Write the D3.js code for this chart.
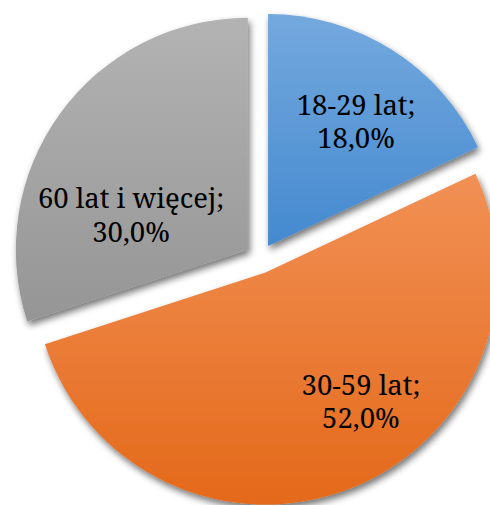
<!DOCTYPE html>
<html>
<head>
<meta charset="utf-8">
<script src="https://cdn.jsdelivr.net/npm/d3@7"></script>
<style>
  html, body { margin: 0; padding: 0; background: #fff; }
  svg { display: block; }
</style>
</head>
<body>
<svg width="490" height="505"></svg>
<script>
var categories = ["18-29 lat", "30-59 lat", "60 lat i więcej"];
var values = [18.0, 52.0, 30.0];
var colorsTop = ["#74a9de", "#f19055", "#b3b3b3"];
var colorsBottom = ["#4489cf", "#e4691a", "#959595"];

var svg = d3.select("svg");
var cx = 260, cy = 258.6, radius = 232, explode = 15;

// label centres, in radius units from the pie centre
var labelSpots = [[0.414, -0.548], [0.435, 0.659], [-0.556, -0.145]];

var defs = svg.append("defs");

var shadow = defs.append("filter")
  .attr("id", "shadow")
  .attr("x", "-10%").attr("y", "-10%")
  .attr("width", "130%").attr("height", "130%");
shadow.append("feGaussianBlur").attr("in", "SourceAlpha").attr("stdDeviation", 3.5);
shadow.append("feOffset").attr("dx", 2).attr("dy", 4).attr("result", "blur");
shadow.append("feComponentTransfer").append("feFuncA").attr("type", "linear").attr("slope", 0.55);
var merge = shadow.append("feMerge");
merge.append("feMergeNode");
merge.append("feMergeNode").attr("in", "SourceGraphic");

categories.forEach(function(c, i) {
  var g = defs.append("linearGradient")
    .attr("id", "grad" + i)
    .attr("x1", 0).attr("y1", 0).attr("x2", 0).attr("y2", 1);
  g.append("stop").attr("offset", "0%").attr("stop-color", colorsTop[i]);
  g.append("stop").attr("offset", "100%").attr("stop-color", colorsBottom[i]);
});

var pie = d3.pie().sort(null).value(function(d) { return d; });
var arcs = pie(values);

var arc = d3.arc().innerRadius(0).outerRadius(radius);

var container = svg.append("g")
  .attr("transform", "translate(" + cx + "," + cy + ")");

container.selectAll("path")
  .data(arcs)
  .enter().append("path")
  .attr("d", arc)
  .attr("fill", function(d, i) { return "url(#grad" + i + ")"; })
  .attr("filter", "url(#shadow)")
  .attr("transform", function(d) {
    var a = (d.startAngle + d.endAngle) / 2;
    return "translate(" + (Math.sin(a) * explode) + "," + (-Math.cos(a) * explode) + ")";
  });

var labels = container.selectAll("g.label")
  .data(arcs)
  .enter().append("g")
  .attr("class", "label")
  .attr("transform", function(d, i) {
    return "translate(" + (labelSpots[i][0] * radius) + "," + (labelSpots[i][1] * radius) + ")";
  });

function addLine(y, txt) {
  labels.append("text")
    .attr("text-anchor", "middle")
    .attr("y", y)
    .style("font-family", "'Noto Serif', 'Liberation Serif', serif")
    .style("font-size", "27.5px")
    .attr("fill", "#000")
    .text(txt);
}

addLine(-16.5, function(d, i) { return categories[i] + ";"; });
addLine(17, function(d) { return d3.format(".1f")(d.data).replace(".", ",") + "%"; });
</script>
</body>
</html>
